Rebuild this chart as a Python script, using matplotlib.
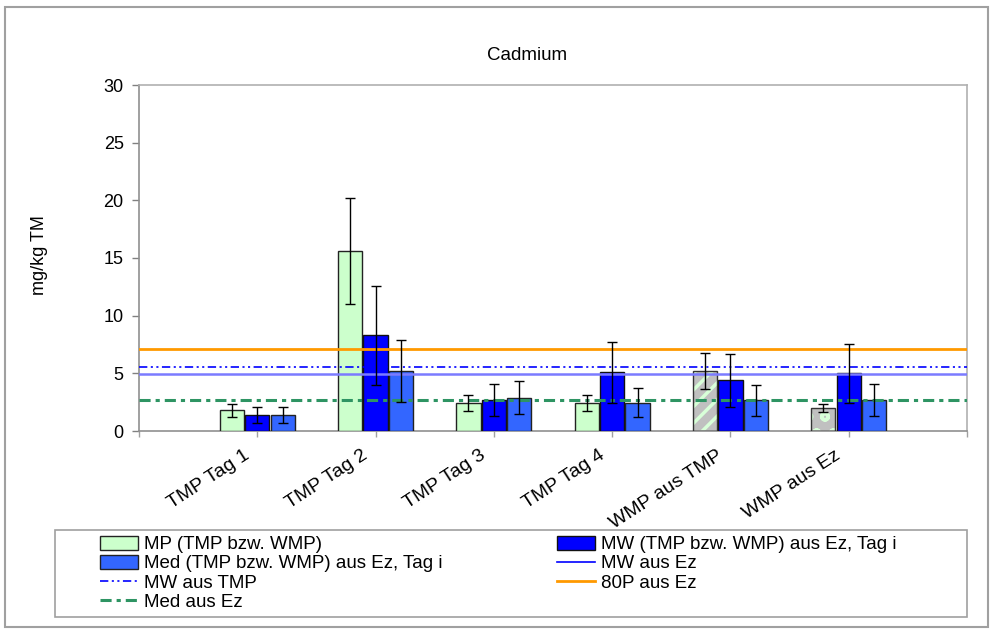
import matplotlib
matplotlib.use("Agg")
import matplotlib.pyplot as plt
import numpy as np
from matplotlib.patches import Rectangle, Patch
from matplotlib.lines import Line2D
import matplotlib.transforms as mtransforms

plt.rcParams['font.family'] = ['Liberation Sans', 'DejaVu Sans']
plt.rcParams['lines.scale_dashes'] = False
plt.rcParams['hatch.linewidth'] = 2.5

# ---------------- data ----------------
categories = ["TMP Tag 1", "TMP Tag 2", "TMP Tag 3", "TMP Tag 4", "WMP aus TMP", "WMP aus Ez"]
mp_vals = [1.8, 15.6, 2.4, 2.4, 5.2, 2.0]
mp_err = [0.55, 4.6, 0.7, 0.7, 1.55, 0.35]
mw_vals = [1.4, 8.3, 2.7, 5.1, 4.4, 5.0]
mw_err = [0.68, 4.3, 1.4, 2.65, 2.28, 2.55]
med_vals = [1.4, 5.2, 2.9, 2.45, 2.65, 2.7]
med_err = [0.68, 2.65, 1.45, 1.27, 1.36, 1.36]
mw_aus_tmp = 5.52
mw_aus_ez = 4.97
p80_aus_ez = 7.1
med_aus_ez = 2.68
title = "Cadmium"
ylabel = "mg/kg TM"
legend_labels = ["MP (TMP bzw. WMP)", "Med (TMP bzw. WMP) aus Ez, Tag i", "MW aus TMP", "Med aus Ez",
                 "MW (TMP bzw. WMP) aus Ez, Tag i", "MW aus Ez", "80P aus Ez"]

# ---------------- styles ----------------
c_mp = "#ccffcc"
c_mw = "#0000ff"
c_med = "#3366ff"
c_gray = "#c0c0c0"
c_orange = "#ff9900"
c_mwline = "#7b7bff"
c_green = "#2e9463"

W, H = 990, 630
fig = plt.figure(figsize=(W / 100, H / 100), dpi=100)

def fx(px):
    return px / W

def fy(py):
    return 1 - py / H

# outer border
fig.patches.append(Rectangle((fx(5), fy(627)), fx(983), 620 / H, transform=fig.transFigure,
                             fill=False, edgecolor="#a0a0a0", linewidth=1.5))

ax = fig.add_axes([fx(139), fy(431), fx(967 - 139), (431 - 85) / H])

x = np.arange(1, len(categories) + 1)
bw = 0.205
off = 0.215

# special MP bar styles for last two categories
mp_face = [c_mp, c_mp, c_mp, c_mp, c_gray, c_gray]
mp_hatch = [None, None, None, None, "//", "o"]

for i in range(len(categories)):
    if mp_hatch[i]:
        ax.bar(x[i] - off, mp_vals[i], bw, color=mp_face[i], edgecolor="#d8ffd8",
               hatch=mp_hatch[i], linewidth=0, zorder=2)
        ax.bar(x[i] - off, mp_vals[i], bw, facecolor="none", edgecolor="#333333",
               linewidth=1, zorder=3)
    else:
        ax.bar(x[i] - off, mp_vals[i], bw, color=mp_face[i], edgecolor="#222222",
               linewidth=1, zorder=3)

ax.bar(x, mw_vals, bw, color=c_mw, edgecolor="#111111", linewidth=1, zorder=3)
ax.bar(x + off, med_vals, bw, color=c_med, edgecolor="#222222", linewidth=1, zorder=3)

ekw = dict(fmt="none", ecolor="black", elinewidth=1, capsize=3.5, capthick=1, zorder=5)
ax.errorbar(x - off, mp_vals, yerr=mp_err, **ekw)
ax.errorbar(x, mw_vals, yerr=mw_err, **ekw)
ax.errorbar(x + off, med_vals, yerr=med_err, **ekw)

# reference lines
ax.axhline(p80_aus_ez, color=c_orange, linewidth=2, zorder=4)
ax.axhline(mw_aus_tmp, color="#0000ff", linewidth=1.2, dashes=[6, 2.5, 1.5, 2.5, 1.5, 2.5], zorder=4)
ax.axhline(mw_aus_ez, color=c_mwline, linewidth=1.8, zorder=4)
ax.axhline(med_aus_ez, color=c_green, linewidth=2.2, dashes=[8, 3.6, 3, 3.6], zorder=4)

ax.set_xlim(0, len(categories) + 1)
ax.set_ylim(0, 30)
ax.set_yticks(np.arange(0, 31, 5))
ax.set_xticks(np.arange(0, len(categories) + 2))
ax.set_xticklabels([])
ax.tick_params(axis="y", length=5, width=1, color="#808080", pad=6, labelsize=13)
ax.tick_params(axis="x", length=4, width=1, color="#a0a0a0")

for s in ["left", "bottom"]:
    ax.spines[s].set_color("#909090")
    ax.spines[s].set_linewidth(1.2)
for s in ["top", "right"]:
    ax.spines[s].set_color("#b0b0b0")
    ax.spines[s].set_linewidth(1.2)

# category labels
off_t = mtransforms.ScaledTranslation(-14 / 100, -16 / 100, fig.dpi_scale_trans)
for xi, lab in zip(x, categories):
    ax.text(xi, 0, lab, transform=ax.get_xaxis_transform() + off_t, rotation=33,
            rotation_mode="anchor", ha="right", va="top", fontsize=14)

fig.text(fx(527), fy(55), title, ha="center", va="center", fontsize=13.5)
fig.text(fx(40), fy(255), ylabel, ha="center", va="center", rotation=90, fontsize=13)

# legend box
fig.patches.append(Rectangle((fx(55), fy(617)), fx(967 - 55), (617 - 530) / H,
                             transform=fig.transFigure, fill=False,
                             edgecolor="#a0a0a0", linewidth=1.2))

h_mp = Patch(facecolor=c_mp, edgecolor="#222222", linewidth=1)
h_med = Patch(facecolor=c_med, edgecolor="#222222", linewidth=1)
h_mwt = Line2D([], [], color="#0000ff", linewidth=1.2, dashes=[6, 2.5, 1.5, 2.5, 1.5, 2.5])
h_mede = Line2D([], [], color=c_green, linewidth=2.2, dashes=[8, 3.6, 3, 3.6])
h_mw = Patch(facecolor=c_mw, edgecolor="#111111", linewidth=1)
h_mwe = Line2D([], [], color="#0000ff", linewidth=1.2)
h_80 = Line2D([], [], color=c_orange, linewidth=2)

lkw = dict(frameon=False, fontsize=13.5, labelspacing=0.09, handlelength=2.05,
           handleheight=0.75, handletextpad=0.3, borderpad=0, borderaxespad=0,
           loc="upper left")
leg1 = fig.legend([h_mp, h_med, h_mwt, h_mede], legend_labels[:4],
                  bbox_to_anchor=(fx(100), fy(536)), **lkw)
leg2 = fig.legend([h_mw, h_mwe, h_80], legend_labels[4:],
                  bbox_to_anchor=(fx(557), fy(536)), **lkw)

fig.savefig("out.png", dpi=100)
